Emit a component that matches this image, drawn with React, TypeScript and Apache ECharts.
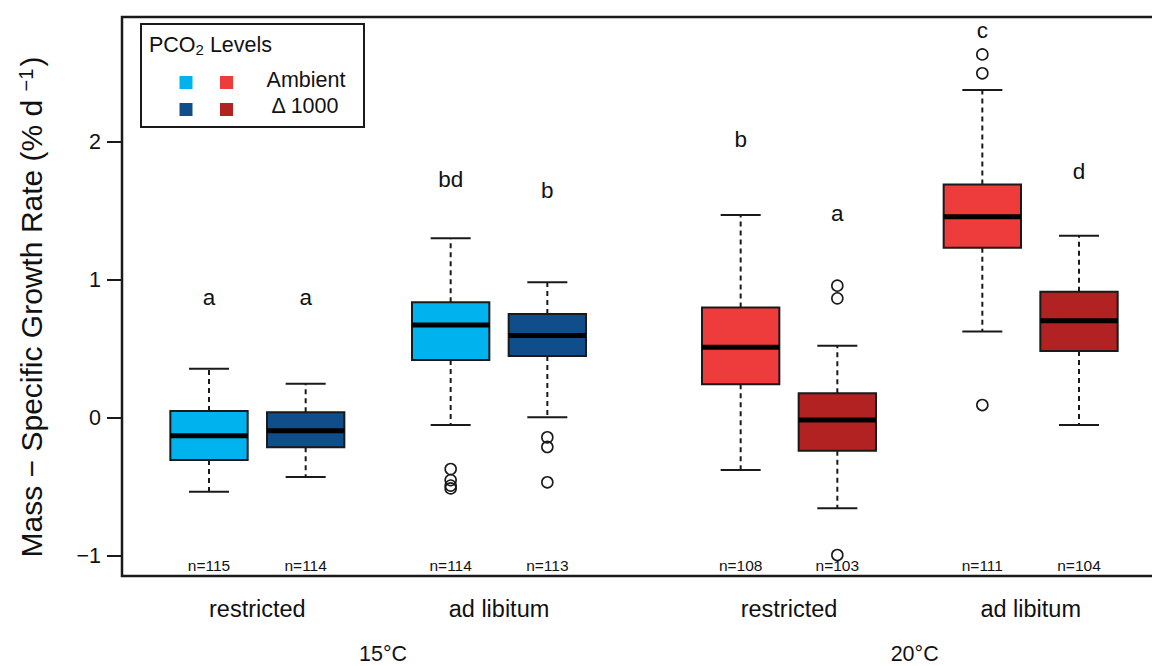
import React, { useEffect, useRef } from "react";
import * as echarts from "echarts";

const FONT = "'Liberation Sans', Arial, Helvetica, sans-serif";

// Box positions (R-style 'at' values) and five-number summaries
const positions = [1, 2, 3.5, 4.5, 6.5, 7.5, 9, 10];
const lowerWhisker = [-0.534, -0.428, -0.051, 0.005, -0.377, -0.654, 0.626, -0.051];
const q1 = [-0.304, -0.212, 0.42, 0.449, 0.244, -0.237, 1.234, 0.486];
const median = [-0.128, -0.092, 0.674, 0.597, 0.512, -0.014, 1.459, 0.705];
const q3 = [0.05, 0.041, 0.838, 0.754, 0.8, 0.179, 1.693, 0.915];
const upperWhisker = [0.357, 0.249, 1.302, 0.983, 1.471, 0.524, 2.377, 1.321];
const boxColors = ["#00B2EE", "#104E8B", "#00B2EE", "#104E8B", "#EE3B3B", "#B22222", "#EE3B3B", "#B22222"];

// Outliers
const outlierX = [3.5, 3.5, 3.5, 3.5, 4.5, 4.5, 4.5, 7.5, 7.5, 7.5, 9, 9, 9];
const outlierY = [-0.37, -0.45, -0.49, -0.51, -0.14, -0.21, -0.466, 0.959, 0.867, -0.993, 2.635, 2.498, 0.094];

// Annotations
const sampleSizes = ["n=115", "n=114", "n=114", "n=113", "n=108", "n=103", "n=111", "n=104"];
const sampleSizeY = -1.07;
const letters = ["a", "a", "bd", "b", "b", "a", "c", "d"];
const letterY = [0.87, 0.87, 1.725, 1.652, 2.02, 1.485, 2.81, 1.785];

// Axis labels
const groupPositions = [1.5, 4, 7, 9.5];
const groupLabels = ["restricted", "ad libitum", "restricted", "ad libitum"];
const tempPositions = [2.8, 8.3];
const tempLabels = ["15°C", "20°C"];
const yTicks = [-1, 0, 1, 2];

const X_MIN = 0.1;
const X_MAX = 10.9;
const Y_MIN = -1.145;
const Y_MAX = 2.906;

export default function App() {
  const ref = useRef<HTMLDivElement>(null);

  useEffect(() => {
    if (!ref.current) return;
    const chart = echarts.init(ref.current, null, { renderer: "svg" });

    const boxData = positions.map((p, i) => [p, lowerWhisker[i], q1[i], median[i], q3[i], upperWhisker[i]]);
    const outlierData = outlierX.map((x, i) => [x, outlierY[i]]);
    const nData = positions.map((p) => [p, sampleSizeY]);
    const letterData = positions.map((p, i) => [p, letterY[i]]);

    const option: any = {
      animation: false,
      backgroundColor: "#ffffff",
      grid: {
        left: 122,
        top: 17,
        width: 1044,
        height: 559,
        show: true,
        borderColor: "#1a1a1a",
        borderWidth: 2.5,
        backgroundColor: "transparent",
        outerBoundsMode: "none",
        containLabel: false,
      },
      xAxis: [
        {
          type: "value",
          min: X_MIN,
          max: X_MAX,
          axisLine: { show: false },
          axisTick: { show: false },
          splitLine: { show: false },
          axisLabel: {
            customValues: groupPositions,
            formatter: (v: number) => {
              const i = groupPositions.findIndex((g) => Math.abs(g - v) < 1e-6);
              return i >= 0 ? groupLabels[i] : "";
            },
            fontSize: 23.5,
            fontFamily: FONT,
            color: "#111",
            margin: 21,
          },
        },
        {
          type: "value",
          position: "bottom",
          offset: 0,
          min: X_MIN,
          max: X_MAX,
          axisLine: { show: false },
          axisTick: { show: false },
          splitLine: { show: false },
          axisLabel: {
            customValues: tempPositions,
            formatter: (v: number) => {
              const i = tempPositions.findIndex((g) => Math.abs(g - v) < 1e-6);
              return i >= 0 ? tempLabels[i] : "";
            },
            fontSize: 21.5,
            fontFamily: FONT,
            color: "#111",
            margin: 67,
          },
        },
      ],
      yAxis: {
        type: "value",
        min: Y_MIN,
        max: Y_MAX,
        axisLine: { show: false },
        splitLine: { show: false },
        axisTick: {
          show: true,
          customValues: yTicks,
          length: 15,
          lineStyle: { color: "#1a1a1a", width: 2 },
        },
        axisLabel: {
          customValues: yTicks,
          formatter: (v: number) => (v < 0 ? "\u2212" + Math.abs(v) : String(v)),
          fontSize: 21.5,
          fontFamily: FONT,
          color: "#111",
          margin: 21,
        },
      },
      graphic: [
        {
          type: "text",
          x: 31,
          y: 307,
          rotation: Math.PI / 2,
          style: {
            text: "{m|Mass \u2212 Specific Growth Rate (% d }{s|\u22121}{m|)}",
            rich: {
              m: { fontSize: 30, fontFamily: FONT, fill: "#111" },
              s: { fontSize: 20, fontFamily: FONT, fill: "#111", verticalAlign: "top", padding: [0, 2, 10, 0] },
            },
            align: "center",
            verticalAlign: "middle",
          },
        },
        {
          type: "rect",
          shape: { x: 141, y: 24, width: 223, height: 103 },
          style: { fill: "#fff", stroke: "#1a1a1a", lineWidth: 2 },
          z: 10,
        },
        {
          type: "text",
          x: 149,
          y: 45,
          z: 11,
          style: {
            text: "{t|PCO}{s|2}{t| Levels}",
            rich: {
              t: { fontSize: 21.5, fontFamily: FONT, fill: "#111" },
              s: { fontSize: 15, fontFamily: FONT, fill: "#111", verticalAlign: "bottom", padding: [8, 0, 0, 0] },
            },
            align: "left",
            verticalAlign: "middle",
          },
        },
        { type: "rect", z: 11, shape: { x: 179.5, y: 76, width: 13, height: 13 }, style: { fill: boxColors[0] } },
        { type: "rect", z: 11, shape: { x: 220, y: 76, width: 13, height: 13 }, style: { fill: boxColors[4] } },
        { type: "rect", z: 11, shape: { x: 179.5, y: 103, width: 13, height: 13 }, style: { fill: boxColors[1] } },
        { type: "rect", z: 11, shape: { x: 220, y: 103, width: 13, height: 13 }, style: { fill: boxColors[5] } },
        {
          type: "text",
          x: 306,
          y: 80,
          z: 11,
          style: { text: "Ambient", fontSize: 21.5, fontFamily: FONT, fill: "#111", align: "center", verticalAlign: "middle" },
        },
        {
          type: "text",
          x: 305,
          y: 106,
          z: 11,
          style: { text: "\u0394 1000", fontSize: 21.5, fontFamily: FONT, fill: "#111", align: "center", verticalAlign: "middle" },
        },
      ],
      series: [
        {
          type: "custom",
          xAxisIndex: 0,
          yAxisIndex: 0,
          data: boxData,
          encode: { x: 0, y: [1, 2, 3, 4, 5] },
          renderItem: (params: any, api: any) => {
            const x = api.value(0);
            const lo = api.value(1);
            const a = api.value(2);
            const m = api.value(3);
            const b = api.value(4);
            const hi = api.value(5);
            const halfW = 0.4;
            const capW = 0.207;
            const c = api.coord([x, m]);
            const pLo = api.coord([x, lo]);
            const pA = api.coord([x, a]);
            const pB = api.coord([x, b]);
            const pHi = api.coord([x, hi]);
            const left = api.coord([x - halfW, m])[0];
            const right = api.coord([x + halfW, m])[0];
            const capL = api.coord([x - capW, m])[0];
            const capR = api.coord([x + capW, m])[0];
            const dash = { stroke: "#1a1a1a", lineWidth: 2, lineDash: [5, 4] };
            const solid = { stroke: "#1a1a1a", lineWidth: 2 };
            return {
              type: "group",
              children: [
                { type: "line", shape: { x1: c[0], y1: pB[1], x2: c[0], y2: pHi[1] }, style: dash },
                { type: "line", shape: { x1: c[0], y1: pA[1], x2: c[0], y2: pLo[1] }, style: dash },
                { type: "line", shape: { x1: capL, y1: pHi[1], x2: capR, y2: pHi[1] }, style: solid },
                { type: "line", shape: { x1: capL, y1: pLo[1], x2: capR, y2: pLo[1] }, style: solid },
                {
                  type: "rect",
                  shape: { x: left, y: pB[1], width: right - left, height: pA[1] - pB[1] },
                  style: { fill: boxColors[params.dataIndex], stroke: "#1a1a1a", lineWidth: 2 },
                },
                { type: "line", shape: { x1: left, y1: c[1], x2: right, y2: c[1] }, style: { stroke: "#000", lineWidth: 5 } },
              ],
            };
          },
          z: 2,
        },
        {
          type: "scatter",
          data: outlierData,
          symbol: "circle",
          symbolSize: 11,
          itemStyle: { color: "rgba(0,0,0,0)", borderColor: "#1a1a1a", borderWidth: 1.6, opacity: 1 },
          z: 3,
        },
        {
          type: "scatter",
          data: nData,
          symbolSize: 1,
          itemStyle: { color: "rgba(0,0,0,0)", opacity: 1 },
          label: {
            show: true,
            position: "inside",
            formatter: (p: any) => sampleSizes[p.dataIndex],
            fontSize: 15.5,
            fontFamily: FONT,
            color: "#111",
            opacity: 1,
          },
          z: 3,
        },
        {
          type: "scatter",
          data: letterData,
          symbolSize: 1,
          itemStyle: { color: "rgba(0,0,0,0)", opacity: 1 },
          label: {
            show: true,
            position: "inside",
            formatter: (p: any) => letters[p.dataIndex],
            fontSize: 22.5,
            fontFamily: FONT,
            color: "#111",
            opacity: 1,
          },
          z: 3,
        },
      ],
    };

    chart.setOption(option);
    return () => chart.dispose();
  }, []);

  return (
    <div
      ref={ref}
      style={{ position: "fixed", left: 0, top: 0, width: 1172, height: 666, background: "#fff" }}
    />
  );
}
